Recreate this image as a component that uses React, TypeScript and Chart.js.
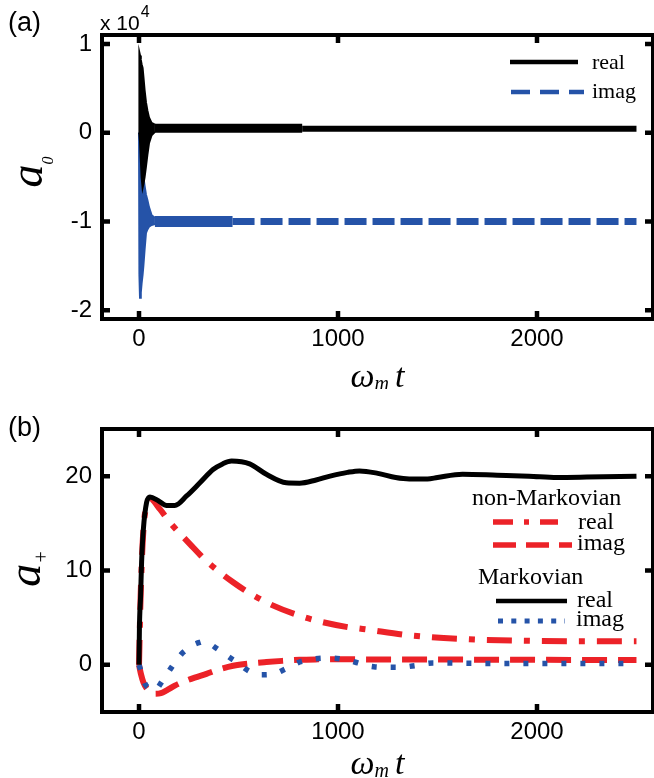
import React, { useEffect, useRef } from "react";
import { Chart, registerables } from "chart.js";
Chart.register(...registerables);

// ---------------- Panel (a) data (values in units of 10^4) ----------------
const aXTicks = [0, 1000, 2000];
const aYTicks = [-2, -1, 0, 1];
const aEnvT = [0, 2, 5, 9, 13, 18, 22, 28, 35, 42, 50, 63, 80];
const aRealUpper = [0, 0.9, 0.87, 0.82, 0.77, 0.73, 0.63, 0.48, 0.34, 0.25, 0.17, 0.11, 0.09];
const aRealLower = [0, -0.02, -0.1, -0.3, -0.5, -0.62, -0.58, -0.5, -0.38, -0.25, -0.12, -0.03, 0.01];
const aImagUpper = [0, -0.02, -0.08, -0.18, -0.3, -0.42, -0.5, -0.6, -0.7, -0.76, -0.84, -0.93, -0.96];
const aImagLower = [0, -1.6, -1.86, -1.8, -1.7, -1.6, -1.5, -1.32, -1.13, -1.09, -1.06, -1.04, -1.03];
const aRealBandT = [80, 300, 820];
const aRealBand = [0.05, 0.05, 0.05];
const aRealTailT = [820, 2500];
const aRealTail = [0.045, 0.045];
const aImagBandT = [80, 470];
const aImagBand = [-1.0, -1.0];
const aImagTailT = [470, 2500];
const aImagTail = [-1.0, -1.0];

// ---------------- Panel (b) data ----------------
const bXTicks = [0, 1000, 2000];
const bYTicks = [0, 10, 20];
const markRealT = [0, 2, 8, 13, 22, 38, 55, 97, 139, 180, 239, 306, 372, 420, 465, 556, 640, 740, 807, 890, 960, 1048, 1108, 1200, 1290, 1358, 1450, 1500, 1626, 1800, 1960, 2100, 2250, 2500];
const markReal = [0, 3.8, 7.3, 10.9, 14.4, 17.2, 17.8, 17.4, 16.9, 16.9, 17.9, 19.3, 20.7, 21.3, 21.6, 21.3, 20.2, 19.3, 19.26, 19.6, 20.0, 20.4, 20.56, 20.3, 19.85, 19.7, 19.7, 19.86, 20.2, 20.1, 20.0, 19.86, 19.9, 20.0];
const markImagT = [0, 15, 30, 50, 72, 95, 114, 140, 164, 190, 214, 245, 272, 300, 322, 350, 381, 410, 440, 475, 506, 530, 556, 580, 606, 640, 682, 720, 765, 807, 845, 882, 930, 974, 1020, 1058, 1100, 1141, 1180, 1225, 1308, 1392, 1475, 1600, 1800, 2000, 2200, 2500];
const markImag = [0, -1.0, -2.0, -2.5, -2.7, -2.4, -1.8, -1.0, -0.25, 0.5, 1.16, 1.7, 2.1, 2.35, 2.47, 2.3, 1.87, 1.45, 1.0, 0.5, 0.1, -0.35, -0.7, -0.9, -1.06, -1.05, -0.95, -0.6, -0.14, 0.3, 0.5, 0.63, 0.7, 0.7, 0.6, 0.45, 0.2, -0.07, -0.2, -0.25, -0.25, -0.07, 0.2, 0.18, 0.15, 0.15, 0.15, 0.15];
const nmRealT = [0, 8, 22, 40, 55, 105, 155, 256, 339, 473, 556, 672, 807, 907, 1048, 1124, 1373, 1659, 1960, 2200, 2500];
const nmReal = [0, 7.2, 14.3, 17.0, 17.6, 16.5, 15.1, 12.8, 11.0, 8.75, 7.6, 6.3, 5.2, 4.6, 4.0, 3.8, 3.1, 2.7, 2.55, 2.5, 2.5];
const nmImagT = [0, 10, 22, 50, 80, 110, 139, 180, 222, 280, 339, 400, 473, 560, 640, 720, 807, 900, 974, 1100, 1500, 2000, 2500];
const nmImag = [0, -1.0, -1.85, -2.8, -3.07, -3.0, -2.7, -2.2, -1.8, -1.35, -0.95, -0.5, -0.1, 0.15, 0.3, 0.42, 0.53, 0.58, 0.6, 0.58, 0.56, 0.53, 0.5];

// ---------------- styles ----------------
const BLACK = "#000000";
const BLUE = "#2553a8";
const RED = "#ec2228";
const SANS = "'Liberation Sans', Arial, sans-serif";
const SERIF = "'Liberation Serif', 'Times New Roman', serif";
const X_MIN = -186;
const X_MAX = 2583;

function pts(t: number[], v: number[]) {
  return t.map((x, i) => ({ x, y: v[i] }));
}

const framePlugin = {
  id: "frame",
  afterDatasetsDraw(chart: any) {
    const { ctx, chartArea: a, scales } = chart;
    ctx.save();
    ctx.strokeStyle = "#000";
    ctx.lineWidth = 4;
    ctx.setLineDash([]);
    ctx.strokeRect(a.left, a.top, a.right - a.left, a.bottom - a.top);
    const L = 8;
    ctx.beginPath();
    scales.x.ticks.forEach((t: any) => {
      const p = scales.x.getPixelForValue(t.value);
      ctx.moveTo(p, a.bottom);
      ctx.lineTo(p, a.bottom - L);
      ctx.moveTo(p, a.top);
      ctx.lineTo(p, a.top + L);
    });
    scales.y.ticks.forEach((t: any) => {
      const p = scales.y.getPixelForValue(t.value);
      ctx.moveTo(a.left, p);
      ctx.lineTo(a.left + L, p);
      ctx.moveTo(a.right, p);
      ctx.lineTo(a.right - L, p);
    });
    ctx.lineWidth = 4.5;
    ctx.stroke();
    ctx.restore();
  },
};

type LegendItem =
  | { type: "header"; text: string; x: number; base: number }
  | { type: "line"; text: string; x1: number; x2: number; y: number; tx: number; base: number; color: string; width: number; dash: number[] };

interface Deco {
  panel: { text: string; x: number; base: number };
  exponent?: { x: number; base: number; supBase: number };
  yTitle: { sub: string; x: number; drop: number; subSize: number; dy: number };
  xTitleBase: number;
  legendSize: number;
  legend: LegendItem[];
}

function makeDeco(cfg: Deco) {
  return {
    id: "deco",
    afterDraw(chart: any) {
      const { ctx, chartArea: a } = chart;
      ctx.save();
      ctx.fillStyle = "#000";
      ctx.textBaseline = "alphabetic";
      ctx.textAlign = "left";
      // panel label
      ctx.font = `27px ${SANS}`;
      ctx.fillText(cfg.panel.text, cfg.panel.x, cfg.panel.base);
      // exponent
      if (cfg.exponent) {
        ctx.font = `21px ${SANS}`;
        const s = "x 10";
        ctx.fillText(s, cfg.exponent.x, cfg.exponent.base);
        const w = ctx.measureText(s).width;
        ctx.font = `16px ${SANS}`;
        ctx.fillText("4", cfg.exponent.x + w + 1, cfg.exponent.supBase);
      }
      // x title: ω_m t
      {
        const fMain = `italic 34px ${SERIF}`;
        const fSub = `italic 20px ${SERIF}`;
        ctx.font = fMain;
        const w1 = ctx.measureText("\u03c9").width;
        const w3 = ctx.measureText("t").width;
        ctx.font = fSub;
        const w2 = ctx.measureText("m").width;
        const gap = 6;
        const total = w1 + w2 + gap + w3;
        let x = (a.left + a.right) / 2 - total / 2;
        const b = cfg.xTitleBase;
        ctx.font = fMain;
        ctx.fillText("\u03c9", x, b);
        x += w1;
        ctx.font = fSub;
        ctx.fillText("m", x, b + 3);
        x += w2 + gap;
        ctx.font = fMain;
        ctx.fillText("t", x, b);
      }
      // y title (rotated)
      {
        const yt = cfg.yTitle;
        const fMain = `italic 46px ${SERIF}`;
        const fSub = `italic ${yt.subSize}px ${SERIF}`;
        ctx.font = fMain;
        const w1 = ctx.measureText("a").width;
        ctx.font = fSub;
        const w2 = ctx.measureText(yt.sub).width;
        const total = w1 + w2;
        ctx.translate(yt.x, (a.top + a.bottom) / 2 + yt.dy);
        ctx.rotate(-Math.PI / 2);
        ctx.font = fMain;
        ctx.fillText("a", -total / 2, 0);
        ctx.font = fSub;
        ctx.fillText(yt.sub, -total / 2 + w1, yt.drop);
        ctx.setTransform(1, 0, 0, 1, 0, 0);
      }
      // legend
      ctx.font = `${cfg.legendSize}px ${SERIF}`;
      cfg.legend.forEach((it) => {
        if (it.type === "header") {
          ctx.fillStyle = "#000";
          ctx.fillText(it.text, it.x, it.base);
        } else {
          ctx.beginPath();
          ctx.strokeStyle = it.color;
          ctx.lineWidth = it.width;
          ctx.lineCap = "butt";
          ctx.setLineDash(it.dash);
          ctx.moveTo(it.x1, it.y);
          ctx.lineTo(it.x2, it.y);
          ctx.stroke();
          ctx.setLineDash([]);
          ctx.fillStyle = "#000";
          ctx.fillText(it.text, it.tx, it.base);
        }
      });
      ctx.restore();
    },
  };
}

function makeScales(xTicks: number[], yTicks: number[], yMin: number, yMax: number, xAxisH: number) {
  const tickFont = { family: SANS, size: 24 };
  return {
    x: {
      type: "linear",
      min: X_MIN,
      max: X_MAX,
      afterBuildTicks: (s: any) => {
        s.ticks = xTicks.map((v) => ({ value: v }));
      },
      afterFit: (s: any) => {
        s.height = xAxisH;
      },
      grid: { display: false, drawTicks: false },
      border: { display: false },
      ticks: { font: tickFont, color: "#000", padding: 6, maxRotation: 0, autoSkip: false, callback: (v: any) => String(v) },
    },
    y: {
      type: "linear",
      min: yMin,
      max: yMax,
      afterBuildTicks: (s: any) => {
        s.ticks = yTicks.map((v) => ({ value: v }));
      },
      afterFit: (s: any) => {
        s.width = 102;
      },
      grid: { display: false, drawTicks: false },
      border: { display: false },
      ticks: { font: tickFont, color: "#000", padding: 10, autoSkip: false, callback: (v: any) => String(v) },
    },
  };
}

const common = { pointRadius: 0, pointHoverRadius: 0, tension: 0, fill: false, borderCapStyle: "butt" };

function configA(): any {
  const datasets = [
    { ...common, data: pts(aEnvT, aRealUpper), borderColor: BLACK, backgroundColor: BLACK, borderWidth: 2, fill: "+1", order: 0 },
    { ...common, data: pts(aEnvT, aRealLower), borderColor: BLACK, borderWidth: 2, order: 0 },
    { ...common, data: pts(aRealBandT, aRealBand), borderColor: BLACK, borderWidth: 9, order: 0 },
    { ...common, data: pts(aRealTailT, aRealTail), borderColor: BLACK, borderWidth: 6, order: 0 },
    { ...common, data: pts(aEnvT, aImagUpper), borderColor: BLUE, backgroundColor: BLUE, borderWidth: 2, fill: "+1", order: 1 },
    { ...common, data: pts(aEnvT, aImagLower), borderColor: BLUE, borderWidth: 2, order: 1 },
    { ...common, data: pts(aImagBandT, aImagBand), borderColor: BLUE, borderWidth: 11, order: 1 },
    { ...common, data: pts(aImagTailT, aImagTail), borderColor: BLUE, borderWidth: 7, borderDash: [22, 6], order: 1 },
  ];
  const deco: Deco = {
    panel: { text: "(a)", x: 8, base: 31 },
    exponent: { x: 100, base: 30, supBase: 17 },
    yTitle: { sub: "0", x: 42, drop: 11, subSize: 16, dy: -5 },
    xTitleBase: 387,
    legendSize: 22,
    legend: [
      { type: "line", text: "real", x1: 510, x2: 578, y: 62, tx: 592, base: 69, color: BLACK, width: 4.5, dash: [] },
      { type: "line", text: "imag", x1: 511, x2: 584, y: 92, tx: 592, base: 98, color: BLUE, width: 4.5, dash: [19, 10] },
    ],
  };
  return {
    type: "line",
    data: { datasets },
    options: {
      animation: false,
      responsive: false,
      events: [],
      layout: { padding: { top: 35, right: 1, left: 0, bottom: 0 } },
      plugins: { legend: { display: false }, tooltip: { enabled: false } },
      scales: makeScales(aXTicks, aYTicks, -2.1, 1.1, 70),
    },
    plugins: [framePlugin, makeDeco(deco)],
  };
}

function configB(): any {
  const smooth = { ...common, cubicInterpolationMode: "monotone" };
  const datasets = [
    { ...smooth, data: pts(markRealT, markReal), borderColor: BLACK, borderWidth: 5, order: 0 },
    { ...smooth, data: pts(markImagT, markImag), borderColor: BLUE, borderWidth: 5.5, borderDash: [5, 14], order: 1 },
    { ...smooth, data: pts(nmImagT, nmImag), borderColor: RED, borderWidth: 6, borderDash: [25, 11], order: 2 },
    { ...smooth, data: pts(nmRealT, nmReal), borderColor: RED, borderWidth: 6, borderDash: [25, 12, 6, 12], order: 3 },
  ];
  const deco: Deco = {
    panel: { text: "(b)", x: 8, base: 47 },
    yTitle: { sub: "+", x: 40, drop: 8, subSize: 20, dy: -2 },
    xTitleBase: 385,
    legendSize: 24,
    legend: [
      { type: "header", text: "non-Markovian", x: 472, base: 116 },
      { type: "line", text: "real", x1: 493, x2: 558, y: 133, tx: 578, base: 140, color: RED, width: 5.5, dash: [20, 11, 5, 11] },
      { type: "line", text: "imag", x1: 493, x2: 572, y: 156, tx: 577, base: 161, color: RED, width: 5.5, dash: [23, 10] },
      { type: "header", text: "Markovian", x: 478, base: 195 },
      { type: "line", text: "real", x1: 496, x2: 567, y: 212, tx: 577, base: 218, color: BLACK, width: 4.5, dash: [] },
      { type: "line", text: "imag", x1: 498, x2: 565, y: 232, tx: 576, base: 237, color: BLUE, width: 5, dash: [5, 8.3] },
    ],
  };
  return {
    type: "line",
    data: { datasets },
    options: {
      animation: false,
      responsive: false,
      events: [],
      layout: { padding: { top: 40, right: 1, left: 0, bottom: 0 } },
      plugins: { legend: { display: false }, tooltip: { enabled: false } },
      scales: makeScales(bXTicks, bYTicks, -5, 25, 66),
    },
    plugins: [framePlugin, makeDeco(deco)],
  };
}

export default function App() {
  const refA = useRef<HTMLCanvasElement>(null);
  const refB = useRef<HTMLCanvasElement>(null);
  useEffect(() => {
    const ca = new Chart(refA.current as HTMLCanvasElement, configA());
    const cb = new Chart(refB.current as HTMLCanvasElement, configB());
    return () => {
      ca.destroy();
      cb.destroy();
    };
  }, []);
  return (
    <div style={{ width: 654, height: 778, background: "#fff" }}>
      <style>{`body{margin:0;background:#fff}`}</style>
      <canvas ref={refA} width={654} height={389} style={{ display: "block" }} />
      <canvas ref={refB} width={654} height={389} style={{ display: "block" }} />
    </div>
  );
}
